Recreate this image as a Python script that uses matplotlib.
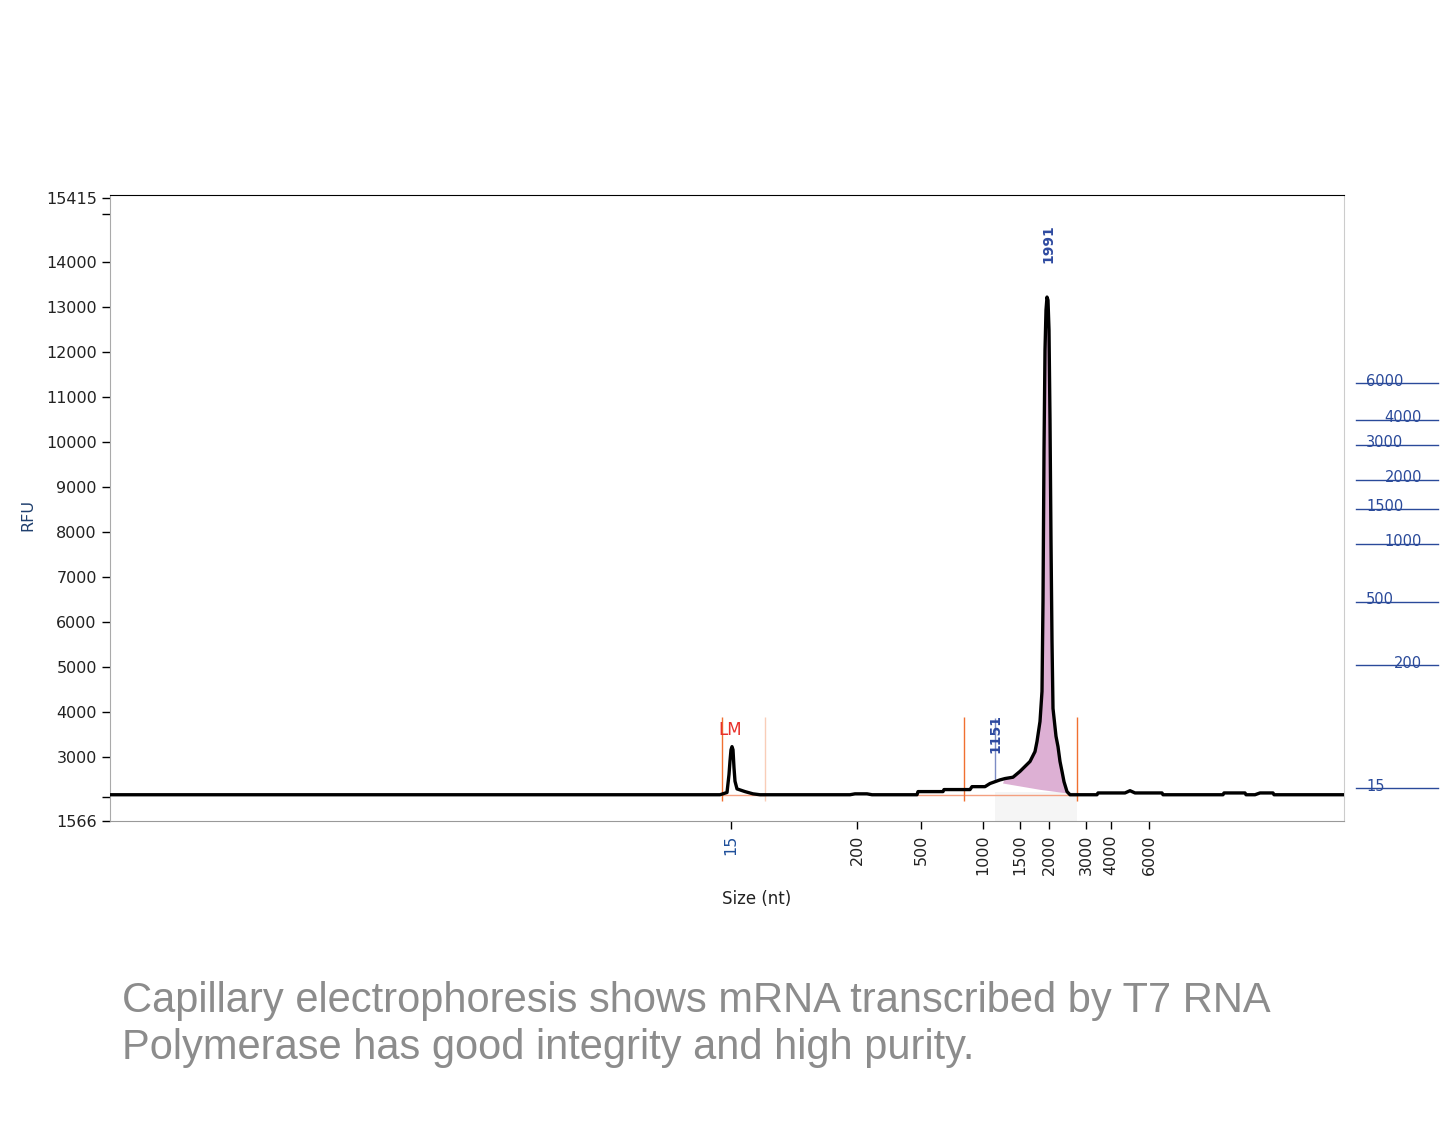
import numpy as np
import matplotlib
matplotlib.use("Agg")
import matplotlib.pyplot as plt

# electropherogram trace (scan index vs RFU)
scan = [0, 610, 617, 619, 620, 621, 622, 623, 624, 625, 627, 635, 643, 650,
        740, 745, 757, 762, 807, 808, 833, 834, 860, 862, 875, 880, 885, 890,
        895, 903, 910, 915, 920, 925, 927, 930, 932, 933, 934, 935, 936, 937,
        938, 939, 940, 941, 942, 943, 946, 948, 950, 952, 954, 957, 960, 987,
        988, 1015, 1020, 1025, 1052, 1053, 1113, 1114, 1135, 1136, 1145, 1150,
        1163, 1164, 1234]
rfu = [2150, 2150, 2200, 2600, 2900, 3150, 3220, 3150, 2750, 2450, 2280, 2220,
       2170, 2150, 2150, 2170, 2170, 2150, 2150, 2220, 2220, 2265, 2265, 2330,
       2330, 2400, 2440, 2480, 2510, 2540, 2670, 2780, 2890, 3110, 3335, 3780,
       4450, 6460, 9800, 12040, 12930, 13220, 13150, 12490, 10480, 7800, 5570,
       4070, 3450, 3220, 2890, 2670, 2440, 2220, 2150, 2150, 2190, 2190, 2240,
       2190, 2190, 2150, 2150, 2190, 2190, 2150, 2150, 2190, 2190, 2150, 2150]

# lower edge of the integrated main peak area
area_low_scan = [957, 930, 893]
area_low_rfu = [2180, 2260, 2400]

# size axis (scan position of each ladder size)
size_labels = ["15", "200", "500", "1000", "1500", "2000", "3000", "4000", "6000"]
size_scan = [621, 747, 811, 873, 910, 939, 976, 1001, 1039]

# RFU axis
ytick_vals = [1566, 2100, 3000, 4000, 5000, 6000, 7000, 8000, 9000, 10000,
              11000, 12000, 13000, 14000, 15060, 15415]
ytick_text = ["1566", "", "3000", "4000", "5000", "6000", "7000", "8000",
              "9000", "10000", "11000", "12000", "13000", "14000", "", "15415"]

# peak annotations
peak_names = ["1151", "1991"]
peak_scan = [885, 938]
peak_label_rfu = [3513, 14400]

# gel-style ladder on the right
ladder_sizes = ["6000", "4000", "3000", "2000", "1500", "1000", "500", "200", "15"]
ladder_rfu = [11300, 10480, 9940, 9160, 8510, 7730, 6440, 5030, 2290]

caption = ["Capillary electrophoresis shows mRNA transcribed by T7 RNA",
           "Polymerase has good integrity and high purity."]

fig = plt.figure(figsize=(14.42, 11.42), dpi=100)
ax = fig.add_axes([110/1442, 1-821/1142, 1234/1442, 626/1142])
ax.set_xlim(0, 1234)
ax.set_ylim(1566, 15490)

scan = np.array(scan)
rfu = np.array(rfu)

# light grey band under the main peak region
ax.fill_between([885, 967], 1566, 2220, color="#f5f5f5", lw=0, zorder=1)

# pink integrated area
m = (scan >= 893) & (scan <= 957)
ax.fill(np.concatenate([scan[m], area_low_scan]),
        np.concatenate([rfu[m], area_low_rfu]),
        color="#ddb0d4", lw=0, zorder=2)

# baseline / marker lines
ax.plot([612, 655], [2150, 2150], color="#f4a080", lw=1, zorder=2)
ax.plot([807, 967], [2150, 2150], color="#f4a080", lw=1, zorder=2)
ax.vlines([612, 854, 967], 2000, 3890, color="#f07030", lw=1, zorder=2)
ax.vlines([655], 2000, 3890, color="#f9cdb8", lw=1, zorder=2)
ax.vlines([885], 2440, 3850, color="#7d8cc4", lw=1, zorder=2)

ax.plot(scan, rfu, color="black", lw=2.4, zorder=3, solid_joinstyle="round")

ax.text(620, 3580, "LM", color="#e8302a", fontsize=12, ha="center", va="center")
for name, xs, yv in zip(peak_names, peak_scan, peak_label_rfu):
    ax.text(xs, yv, name, rotation=90, color="#2e4aa0", fontsize=10,
            fontweight="bold", ha="center", va="center")

# ladder outside the plot
trans = ax.get_yaxis_transform()
for i, (lab, yv) in enumerate(zip(ladder_sizes, ladder_rfu)):
    ax.plot([1.0097, 1.0762], [yv, yv], color="#2a4a9a", lw=1,
            transform=trans, clip_on=False)
    if i % 2 == 0:
        ax.text(1.0178, yv + 50, lab, color="#2a4a9a", fontsize=10.5,
                ha="left", va="center", transform=trans)
    else:
        ax.text(1.0632, yv + 50, lab, color="#2a4a9a", fontsize=10.5,
                ha="right", va="center", transform=trans)

ax.set_yticks(ytick_vals)
ax.set_yticklabels(ytick_text, fontsize=11.5, color="#222222")
ax.set_xticks(size_scan)
ax.set_xticklabels(size_labels, rotation=90, fontsize=11.5, color="#222222")
ax.get_xticklabels()[0].set_color("#1f4f9a")
ax.tick_params(axis="both", direction="out", length=6, width=1, color="black")

ax.spines["left"].set_color("#aaaaaa")
ax.spines["bottom"].set_color("#999999")
ax.spines["right"].set_color("#cccccc")
ax.spines["top"].set_color("black")

ax.set_ylabel("RFU", fontsize=11.5, color="#1f3f6e")
ax.yaxis.set_label_coords(-0.0608, 0.489)
ax.set_xlabel("Size (nt)", fontsize=12, color="#222222")
ax.xaxis.set_label_coords(0.524, -0.110)

for k, line in enumerate(caption):
    fig.text(122/1442, 1 - (1012 + 47*k)/1142, line, fontsize=30,
             family="Liberation Sans", color="#8c8c8c", va="baseline")

fig.savefig("out.png", dpi=100)
